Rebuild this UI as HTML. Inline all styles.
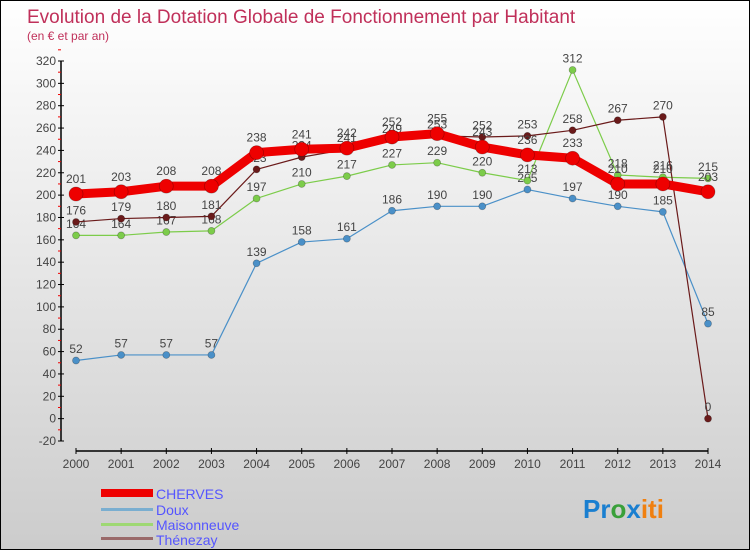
<!DOCTYPE html>
<html><head><meta charset="utf-8"><style>
body{margin:0}
#c{width:748px;height:548px;border:1px solid #000;background:linear-gradient(#fff,#f0f0f0 30%,#ccc);position:relative;overflow:hidden;font-family:"Liberation Sans",sans-serif}
svg{position:absolute;left:0;top:0}
</style></head><body>
<div id="c">
<svg id="s" width="750" height="550">
<text x="26" y="22" font-size="19" fill="#c0305a">Evolution de la Dotation Globale de Fonctionnement par Habitant</text>
<text x="26" y="39" font-size="12" fill="#c0305a">(en € et par an)</text>
<g id="ax"></g><g id="ser"></g>
<g>
<rect x="100" y="488" width="52" height="8" fill="#e00"/>
<text x="155" y="498" font-size="14" fill="#55f">CHERVES</text>
<rect x="100" y="507" width="52" height="3" fill="#7aaed0"/>
<text x="155" y="514" font-size="14" fill="#55f">Doux</text>
<rect x="100" y="522" width="52" height="3" fill="#9ed873"/>
<text x="155" y="529" font-size="14" fill="#55f">Maisonneuve</text>
<rect x="100" y="536" width="52" height="3" fill="#9a6a6a"/>
<text x="155" y="544" font-size="14" fill="#55f">Thénezay</text>
</g>
<text x="582" y="517" font-size="26" font-weight="bold"><tspan fill="#1a7fd0">Pr</tspan><tspan fill="#3aa03a">o</tspan><tspan fill="#1a7fd0">x</tspan><tspan fill="#f08010">iti</tspan></text>
</svg></div>
<script>
const years=[2000,2001,2002,2003,2004,2005,2006,2007,2008,2009,2010,2011,2012,2013,2014];
const yTicks=[-20,0,20,40,60,80,100,120,140,160,180,200,220,240,260,280,300,320];
const cherves=[201,203,208,208,238,241,242,252,255,243,236,233,210,210,203];
const doux=[52,57,57,57,139,158,161,186,190,190,205,197,190,185,85];
const maisonneuve=[164,164,167,168,197,210,217,227,229,220,213,312,218,216,215];
const thenezay=[176,179,180,181,223,234,241,249,253,252,253,258,267,270,0];
const NS="http://www.w3.org/2000/svg";
const X=i=>75+i*(632/14);
const Y=v=>440-(v+20)*(380/340);
function mk(t,a,p){const e=document.createElementNS(NS,t);for(const k in a)e.setAttribute(k,a[k]);p.appendChild(e);return e;}
const ax=document.getElementById('ax'),ser=document.getElementById('ser');
const yl=mk('line',{x1:60,y1:Y(320),x2:60,y2:Y(-20),stroke:'#000','stroke-width':1.5},ax);


yTicks.forEach(v=>{
 mk('line',{x1:57,x2:63,y1:Y(v),y2:Y(v),stroke:'#000'},ax);
 mk('line',{x1:57,x2:60,y1:Y(v+10),y2:Y(v+10),stroke:'#e00'},ax);
 const t=mk('text',{x:55,y:Y(v)+4,'font-size':12,fill:'#444','text-anchor':'end'},ax);t.textContent=v;
 
 
});
const xl=mk('line',{x1:X(0),x2:X(14),y1:450,y2:450,stroke:'#000','stroke-width':1.5},ax);


years.forEach((y,i)=>{
 mk('line',{x1:X(i),x2:X(i),y1:447,y2:453,stroke:'#000'},ax);
 const t=mk('text',{x:X(i),y:467,'font-size':12,fill:'#444','text-anchor':'middle'},ax);t.textContent=y;
 
 
});
function series(d,col,w,r,name){
 const g=mk('g',{},ser);
 
 
 mk('polyline',{points:d.map((v,i)=>X(i)+','+Y(v)).join(' '),fill:'none',stroke:col,'stroke-width':w,'stroke-linejoin':'round'},g);
 d.forEach((v,i)=>{
  const c=mk('circle',{cx:X(i),cy:Y(v),r:r,fill:col,stroke:'rgba(0,0,0,0.3)','stroke-width':0.7},g);
  
  
  const t=mk('text',{x:X(i),y:Y(v)-r-4,'font-size':12,fill:'#444','text-anchor':'middle'},g);t.textContent=v;
  
  
 });
}
series(doux,'#4a90c8',1.2,3.5,'doux');
series(maisonneuve,'#7ccc4a',1.2,3.5,'maisonneuve');
series(thenezay,'#6a1a1a',1.2,3.5,'thenezay');
series(cherves,'#ee0000',9,7,'cherves');
</script>
</body></html>
